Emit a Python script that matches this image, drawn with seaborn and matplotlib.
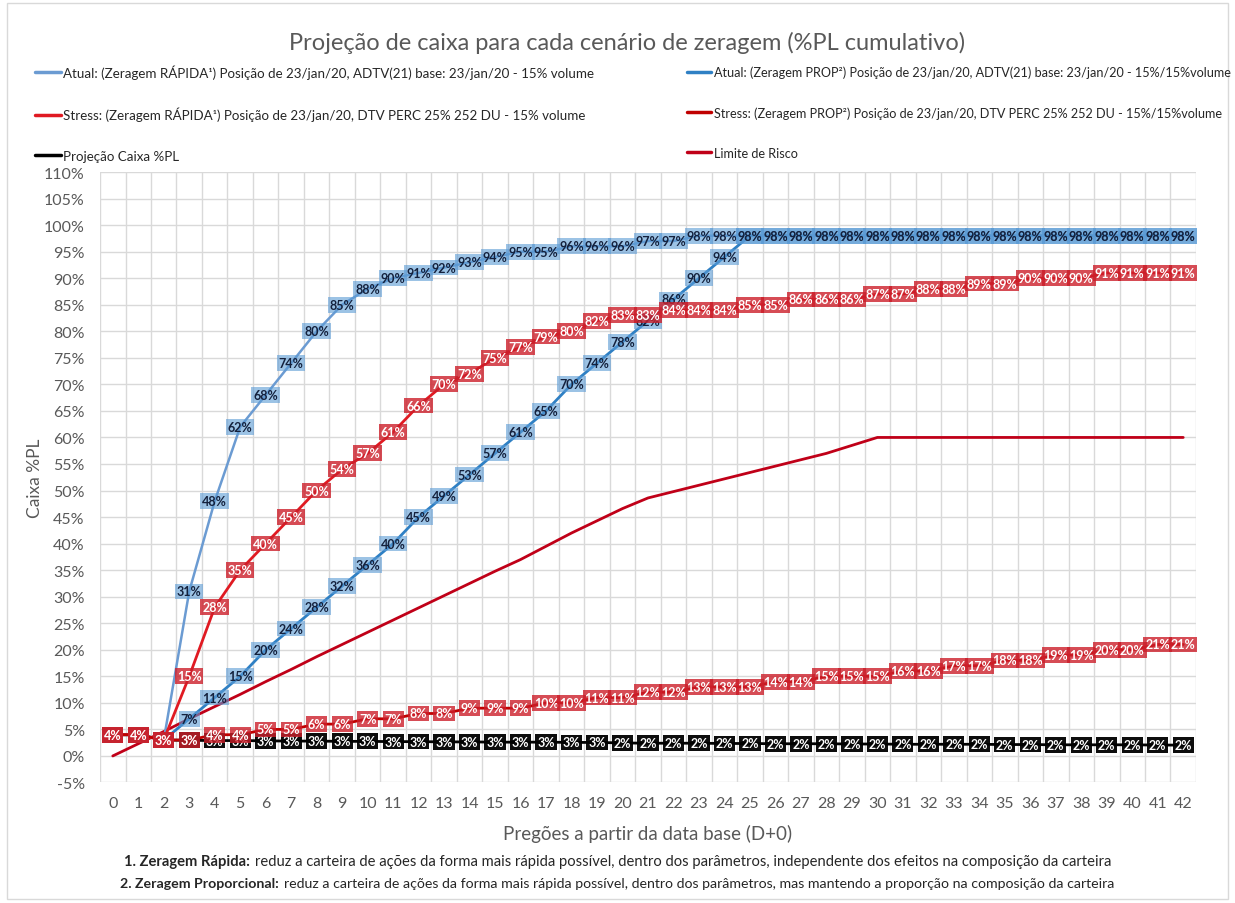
import numpy as np
import matplotlib
matplotlib.use("Agg")
import matplotlib.pyplot as plt
from matplotlib.lines import Line2D
from matplotlib.patches import Rectangle
import seaborn as sns

# pregões D+0 .. D+42
dias = list(range(43))

atual_rapida = [4, 4, 3, 31, 48, 62, 68, 74, 80, 85, 88, 90, 91, 92, 93, 94, 95, 95, 96, 96,
                96, 97, 97, 98, 98, 98, 98, 98, 98, 98, 98, 98, 98, 98, 98, 98, 98, 98, 98, 98,
                98, 98, 98]
atual_prop = [4, 4, 3, 7, 11, 15, 20, 24, 28, 32, 36, 40, 45, 49, 53, 57, 61, 65, 70, 74,
              78, 82, 86, 90, 94, 98, 98, 98, 98, 98, 98, 98, 98, 98, 98, 98, 98, 98, 98, 98,
              98, 98, 98]
stress_rapida = [4, 4, 3, 15, 28, 35, 40, 45, 50, 54, 57, 61, 66, 70, 72, 75, 77, 79, 80, 82,
                 83, 83, 84, 84, 84, 85, 85, 86, 86, 86, 87, 87, 88, 88, 89, 89, 90, 90, 90, 91,
                 91, 91, 91]
stress_prop = [4, 4, 3, 3, 4, 4, 5, 5, 6, 6, 7, 7, 8, 8, 9, 9, 9, 10, 10, 11,
               11, 12, 12, 13, 13, 13, 14, 14, 15, 15, 15, 16, 16, 17, 17, 18, 18, 19, 19, 20,
               20, 21, 21]
projecao = [4, 4, 3, 2.95, 2.9, 2.9, 2.85, 2.8, 2.8, 2.75, 2.75, 2.7, 2.7, 2.65, 2.65, 2.6, 2.6,
            2.6, 2.55, 2.55, 2.45, 2.4, 2.4, 2.4, 2.35, 2.35, 2.3, 2.3, 2.3, 2.25, 2.25, 2.2,
            2.2, 2.2, 2.2, 2.15, 2.15, 2.1, 2.1, 2.1, 2.1, 2.05, 2.05]
limite = [0, 2.3, 4.6, 7.0, 9.3, 11.6, 14.0, 16.3, 18.7, 21.0, 23.3, 25.6, 27.9, 30.2, 32.5,
          34.8, 37.0, 39.5, 42.0, 44.3, 46.6, 48.6, 49.8, 51.0, 52.2, 53.4, 54.6, 55.8, 57.0,
          58.5, 60, 60, 60, 60, 60, 60, 60, 60, 60, 60, 60, 60, 60]

nomes = [
    "Atual: (Zeragem RÁPIDA¹) Posição de 23/jan/20, ADTV(21) base: 23/jan/20 - 15% volume",
    "Stress: (Zeragem RÁPIDA¹) Posição de 23/jan/20, DTV PERC 25% 252 DU - 15% volume",
    "Projeção Caixa %PL",
    "Atual: (Zeragem PROP²) Posição de 23/jan/20, ADTV(21) base: 23/jan/20 - 15%/15%volume",
    "Stress: (Zeragem PROP²) Posição de 23/jan/20, DTV PERC 25% 252 DU - 15%/15%volume",
    "Limite de Risco",
]

sns.set_style("white")
plt.rcParams['font.family'] = ['Lato', 'DejaVu Sans']
cinza = '#595959'

fig = plt.figure(figsize=(12.35, 9.04), dpi=100)
ax = fig.add_axes([0.081, 0.1333, 0.8874, 0.6753])

# linhas
series = [
    (projecao, 'black', 2.0, nomes[2]),
    (limite, '#c00018', 2.0, nomes[5]),
    (atual_rapida, '#6b9bd2', 1.8, nomes[0]),
    (atual_prop, '#2f80c4', 2.0, nomes[3]),
    (stress_rapida, '#e01a22', 2.0, nomes[1]),
    (stress_prop, '#c00000', 2.0, nomes[4]),
]
for vals, cor, lw, nome in series:
    sns.lineplot(x=dias, y=vals, color=cor, linewidth=lw, ax=ax, label=nome, zorder=3)
ax.get_legend().remove()


def rotular(vals, face, alpha, cor_txt, z):
    for x, v in zip(dias, vals):
        ax.text(x, v, f"{v:.0f}%", ha='center', va='center', fontsize=9,
                fontweight='bold', color=cor_txt, zorder=z,
                bbox=dict(boxstyle='square,pad=0.15', fc=face, ec='none', alpha=alpha))


rotular(projecao, 'black', 0.95, 'white', 10)
rotular(atual_rapida, '#5b9bd5', 0.6, '#14213d', 11)
rotular(atual_prop, '#5b9bd5', 0.6, '#14213d', 12)
rotular(stress_rapida, '#cc1f2a', 0.8, 'white', 13)
rotular(stress_prop, '#cc1f2a', 0.8, 'white', 14)

ax.set_xlim(-0.5, 42.5)
ax.set_ylim(-5, 110)
ax.set_xticks(dias)
ax.set_xticks(np.arange(-0.5, 42.6, 0.5), minor=True)
ax.set_yticks(range(-5, 111, 5))
ax.set_yticklabels([f"{t}%" for t in range(-5, 111, 5)])
ax.tick_params(axis='both', which='both', length=0, labelsize=11.5, labelcolor=cinza)
ax.tick_params(axis='x', pad=10)
ax.tick_params(axis='y', pad=11)
ax.grid(axis='y', which='major', color='#d9d9d9', linewidth=1)
ax.grid(axis='x', which='minor', color='#d9d9d9', linewidth=1)
ax.grid(axis='x', which='major', visible=False)
for s in ax.spines.values():
    s.set_visible(False)

ax.set_xlabel("Pregões a partir da data base (D+0)", fontsize=13.5, color=cinza, labelpad=10)
ax.set_ylabel("Caixa %PL", fontsize=12.5, color=cinza)
ax.yaxis.set_label_coords(-0.052, 0.5)

fig.text(0.508, 0.952, "Projeção de caixa para cada cenário de zeragem (%PL cumulativo)",
         ha='center', va='center', fontsize=17, color=cinza)

handles, labels = ax.get_legend_handles_labels()
ordem = {l: h for h, l in zip(handles, labels)}
h1 = [Line2D([], [], color=ordem[n].get_color(), lw=2.5) for n in nomes[:3]]
h2 = [Line2D([], [], color=ordem[n].get_color(), lw=2.5) for n in nomes[3:]]
for hs, labs, x0, fs, y0, ls in [(h1, nomes[:3], 0.028, 9.6, 0.928, 2.13),
                                 (h2, nomes[3:], 0.556, 9.1, 0.926, 2.2)]:
    fig.legend(hs, labs, loc='upper left', bbox_to_anchor=(x0, y0), frameon=False,
               fontsize=fs, handlelength=1.95, handletextpad=0.2, labelspacing=ls,
               borderpad=0, borderaxespad=0)

# notas de rodapé
fig.canvas.draw()
rend = fig.canvas.get_renderer()
notas = [
    (0.046, 10.6, "1. Zeragem Rápida:", "reduz a carteira de ações da forma mais rápida possível, dentro dos parâmetros, independente dos efeitos na composição da carteira"),
    (0.022, 10.2, "2. Zeragem Proporcional:", "reduz a carteira de ações da forma mais rápida possível, dentro dos parâmetros, mas mantendo a proporção na composição da carteira"),
]
for y, fs, neg, txt in notas:
    tb = fig.text(0, y, neg, fontsize=fs, fontweight='bold', ha='left', va='center')
    tn = fig.text(0, y, txt, fontsize=fs, ha='left', va='center')
    wb = tb.get_window_extent(rend).width / fig.bbox.width
    wn = tn.get_window_extent(rend).width / fig.bbox.width
    gap = 0.004
    x0 = 0.5 - (wb + gap + wn) / 2
    tb.set_x(x0)
    tn.set_x(x0 + wb + gap)

fig.patches.append(Rectangle((0.006, 0.004), 0.988, 0.992, transform=fig.transFigure,
                             fill=False, ec='#d9d9d9', lw=1))

fig.savefig("out.png", dpi=100)
